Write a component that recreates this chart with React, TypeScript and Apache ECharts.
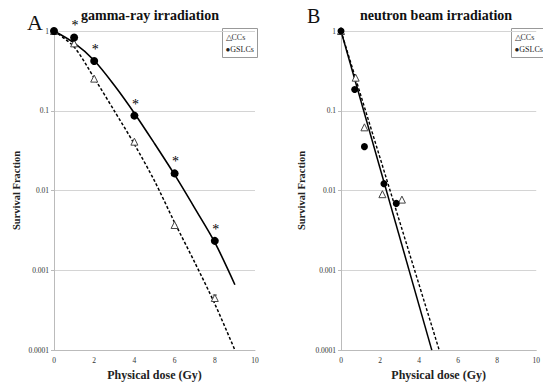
import React, { useEffect, useRef } from "react";
import * as echarts from "echarts";

// Panel A: gamma-ray irradiation
const doseA = [0, 1, 2, 4, 6, 8];
const ccA = [1, 0.7, 0.253, 0.041, 0.0037, 0.00045];
const gslcA = [1, 0.83, 0.42, 0.087, 0.0164, 0.00234];
const ccErrA = [[8, 0.00041, 0.00049]];
const fitDoseA = [0, 1, 2, 3, 4, 5, 6, 7, 8, 9];
const ccFitA = [1, 0.631, 0.257, 0.1, 0.038, 0.0132, 0.00398, 0.00126, 0.00038, 0.0001];
const gslcFitA = [1, 0.708, 0.427, 0.209, 0.0933, 0.0389, 0.0158, 0.00603, 0.00224, 0.00066];

// Panel B: neutron beam irradiation
const ccDoseB = [0, 0.75, 1.2, 2.12, 3.12];
const ccB = [1, 0.26, 0.062, 0.009, 0.0077];
const gslcDoseB = [0, 0.7, 1.2, 2.2, 2.83];
const gslcB = [1, 0.185, 0.0355, 0.0122, 0.0069];
const ccFitB = [[0, 1], [5.03, 0.0001]];
const gslcFitB = [[0, 1], [4.65, 0.0001]];

const yTicks = ["1", "0.1", "0.01", "0.001", "0.0001"];
const titles = ["gamma-ray irradiation", "neutron beam irradiation"];
const panelLetters = ["A", "B"];
const legendItems = ["\u25B3CCs", "\u25CFGSLCs"];

const FONT = "Liberation Serif";

export default function App() {
  const ref = useRef<HTMLDivElement>(null);
  useEffect(() => {
    if (!ref.current) return;
    const chart = echarts.init(ref.current, null, { renderer: "svg" });
    const zip = (xs: number[], ys: number[]) => xs.map((x, i) => [x, ys[i]]);

    const grids = [
      { left: 54, top: 31, width: 201, height: 322 },
      { left: 341, top: 31, width: 200, height: 322 },
    ];
    const xAxis = [0, 1].map((i) => ({
      type: "value",
      gridIndex: i,
      min: 0,
      max: 10,
      interval: 2,
      name: "Physical dose (Gy)",
      nameLocation: "middle",
      nameGap: 17,
      nameTextStyle: { fontFamily: FONT, fontWeight: "bold", fontSize: 12, color: "#222" },
      axisLine: { show: true, lineStyle: { color: "#bbb", width: 1 } },
      axisTick: { show: false },
      splitLine: { show: false },
      axisLabel: { fontFamily: FONT, fontSize: 7.5, color: "#333", margin: 6 },
    }));
    const yAxis = [0, 1].map((i) => ({
      type: "log",
      logBase: 10,
      gridIndex: i,
      min: 0.0001,
      max: 1,
      name: "Survival Fraction",
      nameLocation: "middle",
      nameGap: i === 0 ? 32 : 34,
      nameTextStyle: { fontFamily: FONT, fontWeight: "bold", fontSize: 10.5, color: "#222" },
      axisLine: { show: true, lineStyle: { color: "#bbb", width: 1 } },
      axisTick: { show: true, length: 3, lineStyle: { color: "#bbb" } },
      splitLine: { show: true, lineStyle: { color: "#d4d4d4", width: 1 } },
      minorTick: { show: false },
      axisLabel: {
        fontFamily: FONT,
        fontSize: 7.5,
        color: "#333",
        margin: 5,
        formatter: (v: number) => {
          const k = Math.round(-Math.log10(v));
          return yTicks[k] ?? String(v);
        },
      },
    }));

    const triStyle = { color: "#fff", borderColor: "#444", borderWidth: 1, opacity: 1 };
    const dotStyle = { color: "#000", opacity: 1 };

    const series: any[] = [
      // Panel A
      {
        type: "line", xAxisIndex: 0, yAxisIndex: 0, data: zip(fitDoseA, ccFitA),
        smooth: 0.3, showSymbol: false, lineStyle: { color: "#000", width: 1.5, type: [3, 2] }, z: 2,
      },
      {
        type: "line", xAxisIndex: 0, yAxisIndex: 0, data: zip(fitDoseA, gslcFitA),
        smooth: 0.3, showSymbol: false, lineStyle: { color: "#000", width: 1.6 }, z: 2,
      },
      {
        type: "custom", xAxisIndex: 0, yAxisIndex: 0, data: ccErrA, z: 3,
        renderItem: (params: any, api: any) => {
          const x = api.value(0);
          const lo = api.coord([x, api.value(1)]);
          const hi = api.coord([x, api.value(2)]);
          const w = 2;
          const st = { stroke: "#333", lineWidth: 1 };
          return {
            type: "group",
            children: [
              { type: "line", shape: { x1: lo[0], y1: lo[1], x2: hi[0], y2: hi[1] }, style: st },
              { type: "line", shape: { x1: lo[0] - w, y1: lo[1], x2: lo[0] + w, y2: lo[1] }, style: st },
              { type: "line", shape: { x1: hi[0] - w, y1: hi[1], x2: hi[0] + w, y2: hi[1] }, style: st },
            ],
          };
        },
      },
      {
        type: "scatter", name: "CCs", xAxisIndex: 0, yAxisIndex: 0, data: zip(doseA, ccA),
        symbol: "triangle", symbolSize: 7, itemStyle: triStyle, z: 4,
      },
      {
        type: "scatter", name: "GSLCs", xAxisIndex: 0, yAxisIndex: 0, data: zip(doseA, gslcA),
        symbol: "circle", symbolSize: 8, itemStyle: dotStyle, z: 5,
      },
      {
        type: "scatter", xAxisIndex: 0, yAxisIndex: 0, data: zip(doseA, gslcA).slice(1),
        symbolSize: 1, itemStyle: { color: "rgba(0,0,0,0)", opacity: 1 }, z: 6,
        label: {
          show: true, position: "top", distance: 4, formatter: "*",
          fontFamily: FONT, fontSize: 14, color: "#000", offset: [1, 0],
        },
      },
      // Panel B
      {
        type: "line", xAxisIndex: 1, yAxisIndex: 1, data: ccFitB,
        showSymbol: false, lineStyle: { color: "#000", width: 1.4, type: [3, 2] }, z: 2,
      },
      {
        type: "line", xAxisIndex: 1, yAxisIndex: 1, data: gslcFitB,
        showSymbol: false, lineStyle: { color: "#000", width: 1.5 }, z: 2,
      },
      {
        type: "scatter", name: "CCs", xAxisIndex: 1, yAxisIndex: 1, data: zip(ccDoseB, ccB),
        symbol: "triangle", symbolSize: 7, itemStyle: triStyle, z: 4,
      },
      {
        type: "scatter", name: "GSLCs", xAxisIndex: 1, yAxisIndex: 1, data: zip(gslcDoseB, gslcB),
        symbol: "circle", symbolSize: 7, itemStyle: dotStyle, z: 5,
      },
    ];

    const legendBox = (x: number) => ({
      type: "group",
      left: x,
      top: 28,
      children: [
        { type: "rect", shape: { x: 0, y: 0, width: 35, height: 29 }, style: { fill: "#fff", stroke: "#999", lineWidth: 1 } },
        { type: "text", x: 3, y: 5, style: { text: legendItems[0], fontFamily: FONT, fontSize: 8, fill: "#333" } },
        { type: "text", x: 3, y: 17, style: { text: legendItems[1], fontFamily: FONT, fontSize: 8, fill: "#222" } },
      ],
    });

    chart.setOption({
      animation: false,
      backgroundColor: "#fff",
      grid: grids,
      xAxis,
      yAxis,
      series,
      graphic: [
        { type: "text", x: 150, y: 8, style: { text: titles[0], fontFamily: FONT, fontWeight: "bold", fontSize: 14, fill: "#111", align: "center" } },
        { type: "text", x: 436, y: 8, style: { text: titles[1], fontFamily: FONT, fontWeight: "bold", fontSize: 14, fill: "#111", align: "center" } },
        { type: "text", x: 27, y: 11, style: { text: panelLetters[0], fontFamily: FONT, fontSize: 22, fill: "#111" } },
        { type: "text", x: 307, y: 6, style: { text: panelLetters[1], fontFamily: FONT, fontSize: 20, fill: "#111" } },
        legendBox(222),
        legendBox(511),
      ],
    });
    return () => chart.dispose();
  }, []);
  return <div ref={ref} style={{ width: 543, height: 386, position: "absolute", left: 0, top: 0 }} />;
}
